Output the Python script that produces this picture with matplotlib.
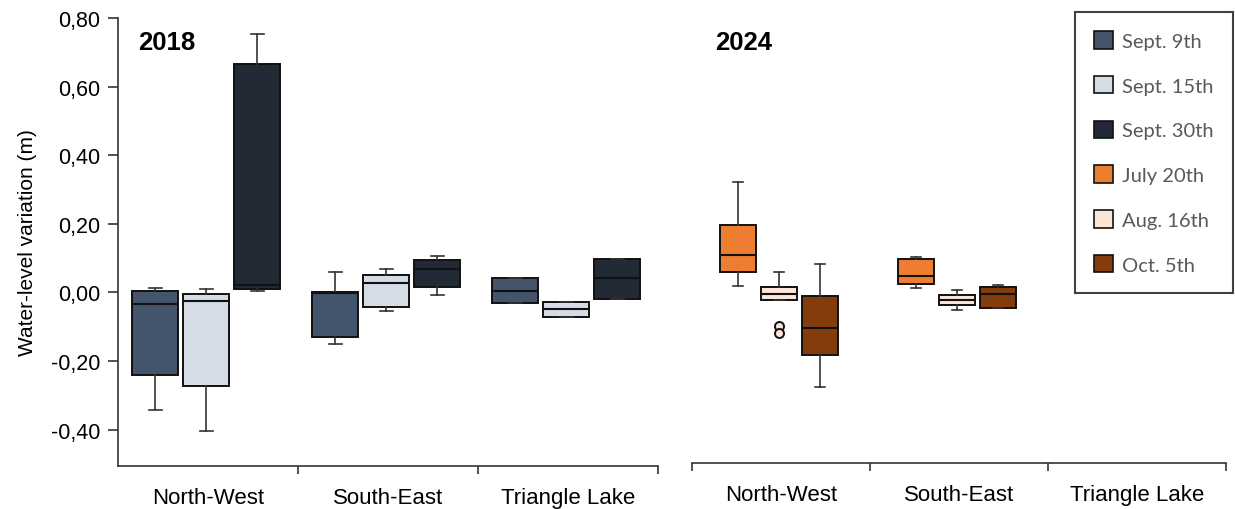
import matplotlib.pyplot as plt
from matplotlib.patches import Patch
from matplotlib.ticker import FuncFormatter, FixedLocator

plt.rcParams['font.family'] = ['Liberation Sans', 'DejaVu Sans']

# 站点与日期
sites = ["North-West", "South-East", "Triangle Lake"]
dates_2018 = ["Sept. 9th", "Sept. 15th", "Sept. 30th"]
dates_2024 = ["July 20th", "Aug. 16th", "Oct. 5th"]
colors_2018 = ["#44546A", "#D6DCE5", "#222A35"]
colors_2024 = ["#ED7D31", "#FBE5D6", "#843C0C"]

# 每个日期、每个站点: [whislo, q1, med, q3, whishi]
sep09 = [[-0.342, -0.241, -0.034, 0.003, 0.0135],
         [-0.150, -0.129, -0.002, 0.002, 0.059],
         [-0.032, -0.032, 0.003, 0.041, 0.041]]
sep15 = [[-0.405, -0.273, -0.025, -0.004, 0.010],
         [-0.053, -0.042, 0.027, 0.052, 0.069],
         [-0.073, -0.073, -0.049, -0.028, -0.028]]
sep30 = [[0.003, 0.010, 0.023, 0.665, 0.753],
         [-0.008, 0.016, 0.069, 0.094, 0.107],
         [-0.018, -0.018, 0.041, 0.097, 0.097]]
jul20 = [[0.018, 0.058, 0.107, 0.194, 0.321],
         [0.010, 0.023, 0.045, 0.097, 0.101],
         None]
aug16 = [[-0.025, -0.025, -0.005, 0.014, 0.058],
         [-0.054, -0.039, -0.025, -0.008, 0.006],
         None]
oct05 = [[-0.279, -0.185, -0.105, -0.011, 0.080],
         [-0.046, -0.046, -0.007, 0.014, 0.020],
         None]
aug16_outliers = [[-0.100, -0.121], [], []]

fig = plt.figure(figsize=(12.35, 5.1), dpi=100)
ax1 = fig.add_axes([118 / 1235, (510 - 466.7) / 510, 540 / 1235, (466.7 - 19) / 510])
ax2 = fig.add_axes([692 / 1235, (510 - 464) / 510, 534 / 1235, (464 - 19) / 510])


def draw_year(ax, series, colors, step, width, capw, outliers=None):
    for k, (data, col) in enumerate(zip(series, colors)):
        stats, pos = [], []
        for i, s in enumerate(data):
            if s is None:
                continue
            st = dict(whislo=s[0], q1=s[1], med=s[2], q3=s[3], whishi=s[4], fliers=[])
            if outliers is not None and outliers[k] is not None:
                st['fliers'] = outliers[k][i]
            stats.append(st)
            pos.append(i + 0.49 + (k - 1) * step)
        ax.bxp(stats, positions=pos, widths=width, capwidths=capw, patch_artist=True,
               manage_ticks=False,
               boxprops=dict(facecolor=col, edgecolor='#111111', linewidth=1.4),
               medianprops=dict(color='#111111', linewidth=1.5),
               whiskerprops=dict(color='#333333', linewidth=1.2),
               capprops=dict(color='#333333', linewidth=1.2),
               flierprops=dict(marker='o', markersize=6.5, markerfacecolor=col,
                               markeredgecolor='#111111', markeredgewidth=1.4))


draw_year(ax1, [sep09, sep15, sep30], colors_2018, 0.283, 0.255, 0.072)
draw_year(ax2, [jul20, aug16, oct05], colors_2024, 0.23, 0.202, 0.058,
          outliers=[None, aug16_outliers, None])

for ax in (ax1, ax2):
    ax.set_xlim(0, 3)
    ax.set_ylim(-0.505 if ax is ax1 else -0.50, 0.80)
    ax.spines['top'].set_visible(False)
    ax.spines['right'].set_visible(False)
    ax.spines['bottom'].set_linewidth(1.2)
    ax.spines['bottom'].set_color('#333333')
    ax.set_xticks([0.5, 1.5, 2.5])
    ax.set_xticklabels(sites, fontsize=16)
    ax.tick_params(axis='x', which='major', length=0, pad=15)
    ax.tick_params(axis='x', which='minor', length=6, width=1.2, color='#333333', direction='out')

ax1.xaxis.set_minor_locator(FixedLocator([1, 2, 3]))
ax2.xaxis.set_minor_locator(FixedLocator([0, 1, 2, 3]))

ax1.spines['left'].set_linewidth(1.2)
ax1.spines['left'].set_color('#333333')
ax1.set_yticks([-0.4, -0.2, 0.0, 0.2, 0.4, 0.6, 0.8])
ax1.yaxis.set_major_formatter(FuncFormatter(lambda v, p: f"{v:.2f}".replace('.', ',').replace('-0,00', '0,00')))
ax1.tick_params(axis='y', labelsize=15.5, length=7, width=1.2, color='#333333', pad=6)
ax1.set_ylabel("Water-level variation (m)", fontsize=15, labelpad=10)

ax2.spines['left'].set_visible(False)
ax2.set_yticks([])

ax1.text(0.11, 0.73, "2018", fontsize=18.5, fontweight='bold', va='center')
ax2.text(0.13, 0.73, "2024", fontsize=18.5, fontweight='bold', va='center')

# 图例
handles = [Patch(facecolor=c, edgecolor='#111111', linewidth=1.2) for c in colors_2018 + colors_2024]
leg = fig.legend(handles, dates_2018 + dates_2024, loc='upper left',
                 bbox_to_anchor=(1075 / 1235, 1 - 13 / 510), frameon=True, fancybox=False,
                 prop={'family': 'Lato', 'size': 14.5}, labelcolor='#595959',
                 handlelength=0.95, handleheight=0.95, handletextpad=0.45,
                 labelspacing=1.3, borderpad=0.95, borderaxespad=0)
leg.get_frame().set_edgecolor('#111111')
leg.get_frame().set_linewidth(1.5)

fig.savefig("out.png", dpi=100)
